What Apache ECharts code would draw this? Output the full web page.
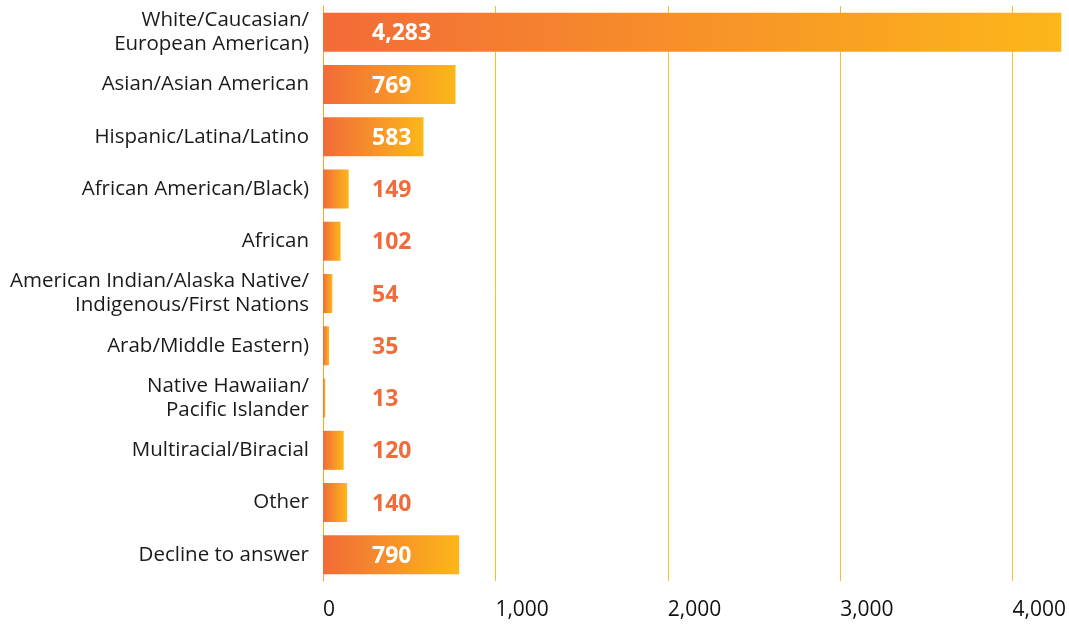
<!DOCTYPE html>
<html>
<head>
<meta charset="utf-8">
<script src="https://cdn.jsdelivr.net/npm/echarts@6/dist/echarts.min.js"></script>
<style>
  html, body { margin: 0; padding: 0; background: #fff; }
  #chart { width: 1069px; height: 624px; }
</style>
</head>
<body>
<div id="chart"></div>
<script>
// categories top to bottom
const categories = [
  'White/Caucasian/\nEuropean American)',
  'Asian/Asian American',
  'Hispanic/Latina/Latino',
  'African American/Black)',
  'African',
  'American Indian/Alaska Native/\nIndigenous/First Nations',
  'Arab/Middle Eastern)',
  'Native Hawaiian/\nPacific Islander',
  'Multiracial/Biracial',
  'Other',
  'Decline to answer'
]
const counts = [4283, 769, 583, 149, 102, 54, 35, 13, 120, 140, 790]
// labels drawn inside the bar (white) vs outside (orange)
const insideLabel = [true, true, true, false, false, false, false, false, false, false, true]

const chart = echarts.init(document.getElementById('chart'))

const barGradient = new echarts.graphic.LinearGradient(0, 0, 1, 0, [
  { offset: 0, color: '#f26b38' },
  { offset: 1, color: '#fcb71a' }
])

const option = {
  animation: false,
  grid: { left: 323, right: 7, top: 6, bottom: 43 },
  xAxis: {
    type: 'value',
    min: 0,
    max: 'dataMax',
    interval: 1000,
    axisLine: { show: false },
    axisTick: { show: false },
    splitLine: {
      show: true,
      showMinLine: false,
      showMaxLine: false,
      lineStyle: { color: '#fbbd2a', width: 1 }
    },
    axisLabel: {
      color: '#111',
      fontFamily: 'Open Sans',
      fontSize: 21,
      align: 'left',
      margin: 19,
      showMaxLabel: false,
      formatter: (v) => v.toLocaleString('en-US')
    }
  },
  yAxis: {
    type: 'category',
    inverse: true,
    data: categories,
    axisLine: { show: true, lineStyle: { color: '#f9a42a', width: 1 } },
    axisTick: { show: false },
    axisLabel: {
      color: '#1a1a1a',
      fontFamily: 'Open Sans',
      fontSize: 20.5,
      lineHeight: 24,
      margin: 14,
      align: 'right'
    }
  },
  series: [{
    type: 'bar',
    barWidth: 39,
    itemStyle: { color: barGradient },
    data: counts.map((v, i) => ({
      value: v,
      label: {
        show: true,
        position: [49, '54%'],
        align: 'left',
        verticalAlign: 'middle',
        fontFamily: 'Open Sans',
        fontWeight: 'bold',
        fontSize: 23,
        color: insideLabel[i] ? '#ffffff' : '#f26b3a',
        formatter: (p) => p.value.toLocaleString('en-US')
      }
    }))
  }]
}

chart.setOption(option)
</script>
</body>
</html>
